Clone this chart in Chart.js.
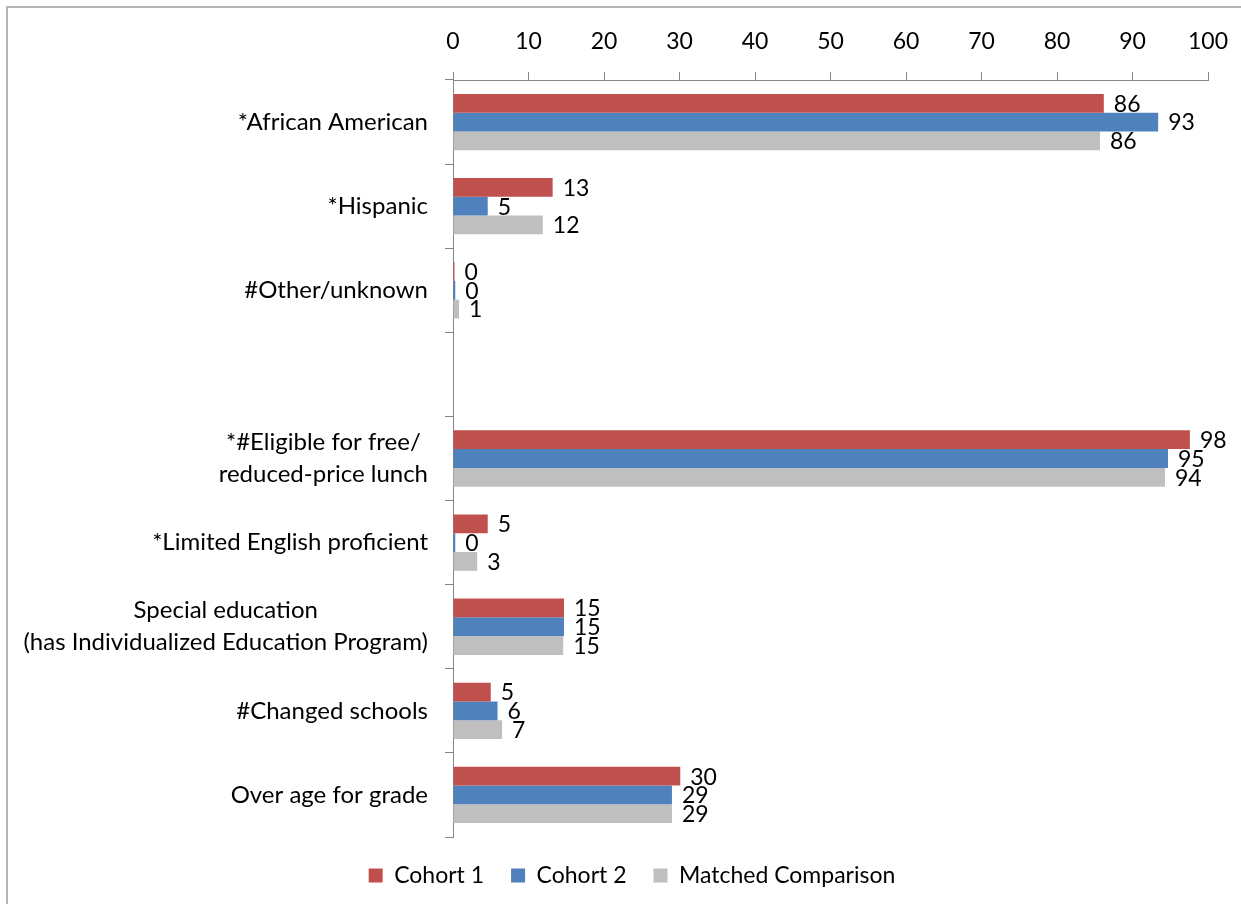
<!DOCTYPE html>
<html lang="en">
<head>
    <meta charset="UTF-8">
    <title>Student characteristics by cohort</title>
    <script src="https://cdn.jsdelivr.net/npm/chart.js"></script>
    <style>
        html, body { margin: 0; padding: 0; background: #fff; overflow: hidden; }
        #frame {
            position: absolute; left: 6px; top: 6px; width: 1300px; height: 1000px;
            border-left: 2px solid #b4b4b4; border-top: 2px solid #b4b4b4;
        }
        #wrap { position: absolute; left: 0; top: 0; width: 1241px; height: 904px; }
    </style>
</head>
<body>
<div id="frame"></div>
<div id="wrap"><canvas id="myChart"></canvas></div>
<script>
    // categories (empty one is the gap between the two groups)
    const categories = [
        '*African American',
        '*Hispanic',
        '#Other/unknown',
        '',
        ['*#Eligible for free/', 'reduced-price lunch'],
        '*Limited English proficient',
        ['Special education', '(has Individualized Education Program)'],
        '#Changed schools',
        'Over age for grade'
    ];

    // percentages
    const cohort1 = [86.2, 13.2, 0.2, null, 97.6, 4.6, 14.7, 5.0, 30.1];
    const cohort2 = [93.4, 4.6, 0.3, null, 94.7, 0.3, 14.7, 5.9, 29.0];
    const matched = [85.7, 11.9, 0.8, null, 94.3, 3.2, 14.6, 6.5, 29.0];

    const xTicks = [0, 10, 20, 30, 40, 50, 60, 70, 80, 90, 100];

    const FONT = 'Lato, "Open Sans", sans-serif';
    const axisGray = '#868686';

    // value labels at the end of each bar
    const valueLabels = {
        id: 'valueLabels',
        afterDatasetsDraw(chart) {
            const ctx = chart.ctx;
            ctx.save();
            ctx.font = '23px ' + FONT;
            ctx.fillStyle = '#000';
            ctx.textAlign = 'left';
            ctx.textBaseline = 'middle';
            chart.data.datasets.forEach((ds, di) => {
                const meta = chart.getDatasetMeta(di);
                meta.data.forEach((bar, i) => {
                    const v = ds.data[i];
                    if (v === null || v === undefined) return;
                    ctx.fillText(String(Math.round(v)), bar.x + 10, bar.y + 1);
                });
            });
            ctx.restore();
        }
    };

    // category labels, multi-line ones centred on their widest line
    const categoryLabels = {
        id: 'categoryLabels',
        afterDraw(chart) {
            const ctx = chart.ctx;
            const yScale = chart.scales.y;
            const rightEdge = chart.chartArea.left - 25;
            const lh = 32;
            ctx.save();
            ctx.font = '24px ' + FONT;
            ctx.fillStyle = '#000';
            ctx.textAlign = 'center';
            ctx.textBaseline = 'middle';
            categories.forEach((lab, i) => {
                const lines = Array.isArray(lab) ? lab : [lab];
                const maxW = Math.max(...lines.map(l => ctx.measureText(l).width));
                const cx = rightEdge - maxW / 2;
                const y0 = yScale.getPixelForValue(i) - (lines.length - 1) * lh / 2;
                lines.forEach((l, k) => ctx.fillText(l, cx, y0 + k * lh));
            });
            ctx.restore();
        }
    };

    // nudge the legend a little to the right, as in the original
    const legendShift = {
        id: 'legendShift',
        afterLayout(chart) {
            chart.legend.left += 28;
            chart.legend.right += 28;
        }
    };

    const ctx = document.getElementById('myChart').getContext('2d');
    const chart = new Chart(ctx, {
        type: 'bar',
        data: {
            labels: categories,
            datasets: [
                { label: 'Cohort 1', data: cohort1, backgroundColor: '#C0504D' },
                { label: 'Cohort 2', data: cohort2, backgroundColor: '#4F81BD' },
                { label: 'Matched Comparison', data: matched, backgroundColor: '#BFBFBF' }
            ]
        },
        options: {
            indexAxis: 'y',
            responsive: true,
            maintainAspectRatio: false,
            animation: false,
            devicePixelRatio: 1,
            datasets: {
                bar: { categoryPercentage: 0.67, barPercentage: 1.0 }
            },
            layout: { padding: { left: 0, right: 33, top: 0, bottom: 7 } },
            scales: {
                x: {
                    position: 'top',
                    min: 0,
                    max: 100,
                    afterBuildTicks: (scale) => { scale.ticks = xTicks.map(v => ({ value: v })); },
                    afterFit: (scale) => {
                        scale.height = 80;
                        scale.paddingLeft = 0;
                        scale.paddingRight = 0;
                    },
                    ticks: { color: '#000', font: { family: FONT, size: 23 }, padding: 17 },
                    grid: { drawOnChartArea: false, tickLength: 8, color: axisGray },
                    border: { color: axisGray, width: 1 }
                },
                y: {
                    afterFit: (scale) => { scale.width = 453; },
                    ticks: { display: false },
                    grid: { drawOnChartArea: false, tickLength: 8, color: axisGray, offset: true },
                    border: { color: axisGray, width: 1 }
                }
            },
            plugins: {
                legend: {
                    position: 'bottom',
                    labels: {
                        color: '#000',
                        font: { family: FONT, size: 23 },
                        boxWidth: 14,
                        boxHeight: 14,
                        padding: 27
                    }
                },
                tooltip: { enabled: false }
            }
        },
        plugins: [valueLabels, categoryLabels, legendShift]
    });
</script>
</body>
</html>
